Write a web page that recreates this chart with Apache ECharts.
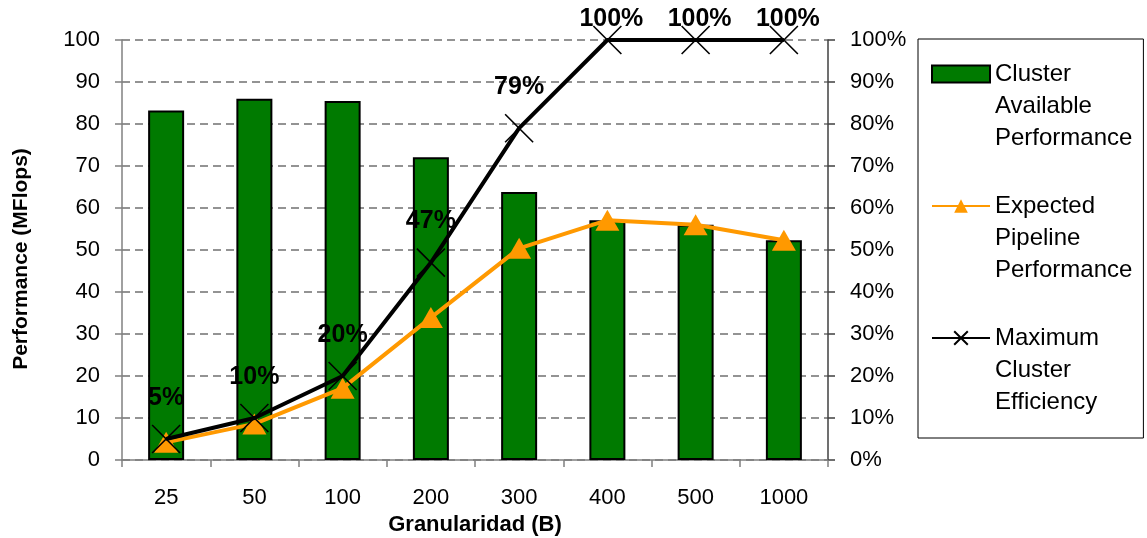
<!DOCTYPE html>
<html>
<head>
<meta charset="utf-8">
<script src="https://cdn.jsdelivr.net/npm/echarts@6/dist/echarts.min.js"></script>
<style>
  html, body { margin: 0; padding: 0; background: #fff; }
  #chart { width: 1147px; height: 538px; }
</style>
</head>
<body>
<div id="chart"></div>
<script>
// Granularity categories (bytes)
const categories = ['25', '50', '100', '200', '300', '400', '500', '1000'];
// Cluster available performance (MFlops)
const availablePerf = [83.2, 86.0, 85.5, 72.1, 63.8, 57.1, 56.0, 52.3];
// Expected pipeline performance (MFlops)
const pipelinePerf = [4.2, 8.6, 17.1, 33.9, 50.4, 57.1, 56.0, 52.3];
// Maximum cluster efficiency (%)
const efficiency = [5, 10, 20, 47, 79, 100, 100, 100];

const FONT = '"Liberation Sans", Arial, sans-serif';
const crossPath = 'path://M0,0L28,28M28,0L0,28';

// labels that would run off the top sit closer to their marks
const efficiencyData = efficiency.map(v => v >= 100
  ? { value: v, label: { distance: -6, offset: [4, 0] } }
  : { value: v });

// legend text: two blank lines in front keep the first word level with the icon
const legendText = name => ' \n \n' + name.split(' ').join('\n');

const chart = echarts.init(document.getElementById('chart'), null, { renderer: 'canvas' });

chart.setOption({
  backgroundColor: '#ffffff',
  animation: false,
  textStyle: { fontFamily: FONT, color: '#000' },
  grid: { left: 122, right: 319, top: 40, bottom: 78, containLabel: false, outerBoundsMode: 'none' },
  legend: {
    orient: 'vertical',
    left: 918,
    top: 39,
    padding: [-45, 11, 20, 13],
    borderColor: '#000',
    borderWidth: 1,
    itemWidth: 58,
    itemHeight: 17,
    itemGap: -28,
    textStyle: { fontFamily: FONT, fontSize: 24, lineHeight: 32, color: '#000' },
    formatter: legendText,
    data: [
      { name: 'Cluster Available Performance', icon: 'rect' },
      { name: 'Expected Pipeline Performance' },
      { name: 'Maximum Cluster Efficiency' }
    ]
  },
  xAxis: {
    type: 'category',
    data: categories,
    boundaryGap: true,
    name: 'Granularidad (B)',
    nameLocation: 'middle',
    nameGap: 43,
    nameTextStyle: { fontFamily: FONT, fontSize: 22, fontWeight: 'bold', color: '#000' },
    axisLine: { lineStyle: { color: '#808080', width: 1.5 } },
    axisTick: { show: true, inside: false, length: 7, alignWithLabel: false, lineStyle: { color: '#808080', width: 1.5 } },
    axisLabel: { fontFamily: FONT, fontSize: 22, color: '#000', margin: 27 },
    splitLine: { show: false }
  },
  yAxis: [
    {
      type: 'value',
      min: 0, max: 100, interval: 10,
      name: 'Performance (MFlops)',
      nameLocation: 'middle',
      nameGap: 90,
      nameTextStyle: { fontFamily: FONT, fontSize: 21, fontWeight: 'bold', color: '#000', padding: [0, 18, 0, 0] },
      axisLine: { show: true, lineStyle: { color: '#808080', width: 1.5 } },
      axisTick: { show: true, length: 7, lineStyle: { color: '#808080', width: 1.5 } },
      axisLabel: { fontFamily: FONT, fontSize: 22, color: '#000', margin: 22 },
      splitLine: { show: true, lineStyle: { color: '#707070', width: 1.6, type: [8, 5] } }
    },
    {
      type: 'value',
      min: 0, max: 100, interval: 10,
      position: 'right',
      axisLine: { show: true, lineStyle: { color: '#404040', width: 1.5 } },
      axisTick: { show: true, length: 7, lineStyle: { color: '#404040', width: 1.5 } },
      axisLabel: { fontFamily: FONT, fontSize: 22, color: '#000', margin: 22, formatter: '{value}%' },
      splitLine: { show: false }
    }
  ],
  series: [
    {
      name: 'Cluster Available Performance',
      type: 'bar',
      data: availablePerf,
      barWidth: 36,
      itemStyle: { color: '#007a00', borderColor: '#000', borderWidth: 2 },
      z: 2
    },
    {
      name: 'Expected Pipeline Performance',
      type: 'line',
      data: pipelinePerf,
      symbol: 'triangle',
      symbolSize: [24, 21],
      lineStyle: { color: '#ff9900', width: 4 },
      itemStyle: { color: '#ff9900' },
      z: 3
    },
    {
      name: 'Maximum Cluster Efficiency',
      type: 'line',
      yAxisIndex: 1,
      data: efficiencyData,
      symbol: crossPath,
      symbolSize: 28,
      lineStyle: { color: '#000', width: 4 },
      itemStyle: { color: '#000', borderColor: '#000', borderWidth: 1.6 },
      label: {
        show: true,
        position: 'top',
        distance: 14,
        formatter: '{c}%',
        fontFamily: FONT,
        fontSize: 25,
        fontWeight: 'bold',
        color: '#000'
      },
      z: 4
    }
  ]
});
</script>
</body>
</html>
